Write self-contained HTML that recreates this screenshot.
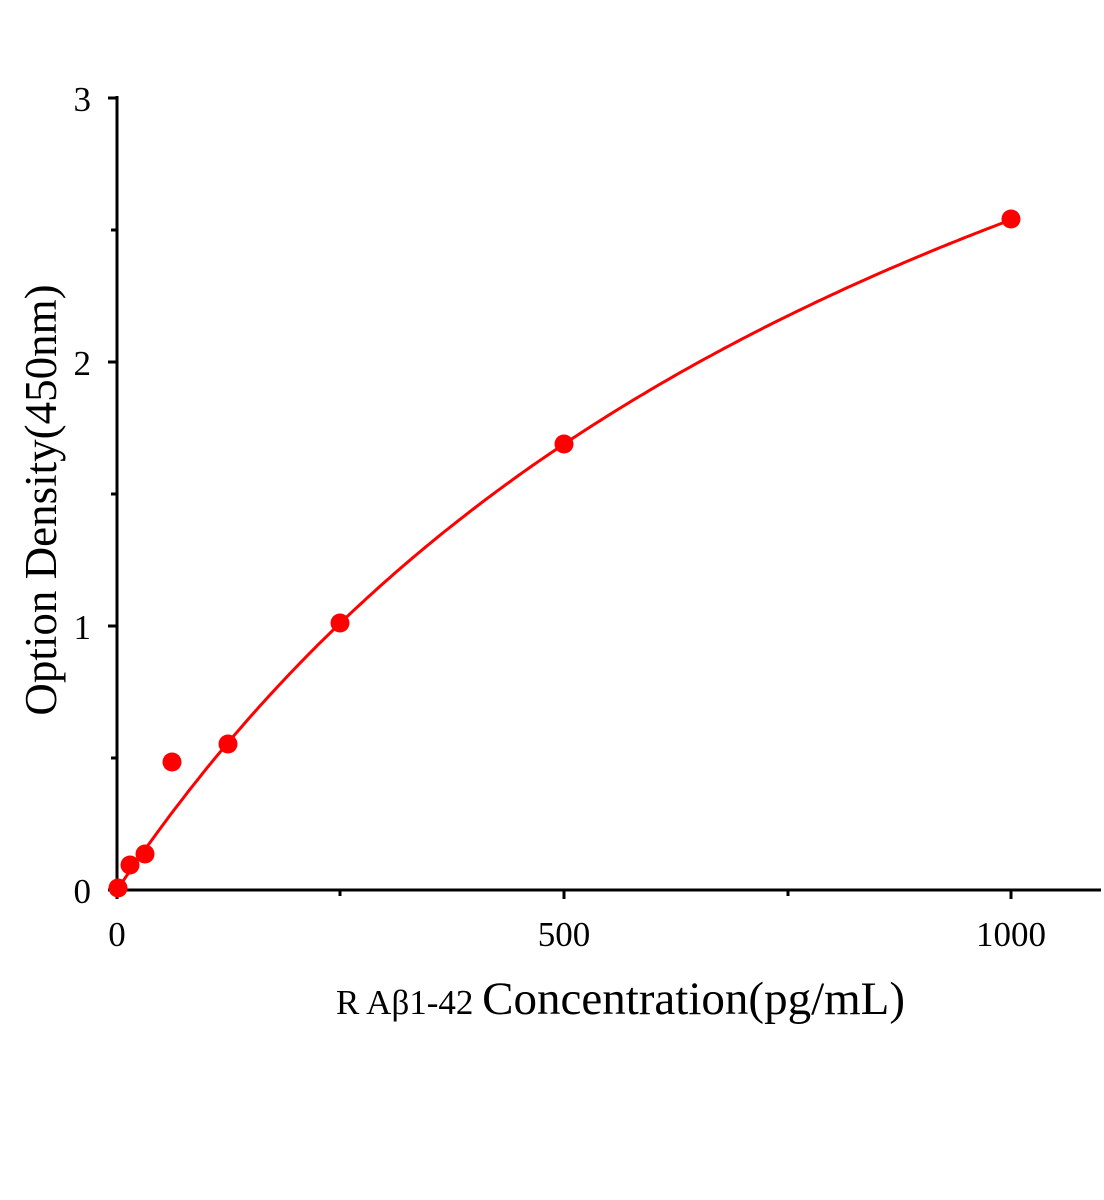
<!DOCTYPE html>
<html><head><style>body{margin:0;background:#fff}svg{display:block}text{font-family:"Liberation Serif",serif;fill:#000}</style></head>
<body>
<svg width="1104" height="1200" viewBox="0 0 1104 1200">
<g stroke="#000" stroke-width="3" fill="none">
<line x1="117" y1="96" x2="117" y2="891"/>
<line x1="115" y1="890" x2="1101" y2="890"/>
<line x1="108" y1="98" x2="117" y2="98"/>
<line x1="108" y1="362" x2="117" y2="362"/>
<line x1="108" y1="626" x2="117" y2="626"/>
<line x1="108" y1="890" x2="117" y2="890"/>
<line x1="111" y1="230" x2="117" y2="230"/>
<line x1="111" y1="494" x2="117" y2="494"/>
<line x1="111" y1="758" x2="117" y2="758"/>
<line x1="117" y1="890" x2="117" y2="899"/>
<line x1="564" y1="890" x2="564" y2="899"/>
<line x1="1011" y1="890" x2="1011" y2="899"/>
<line x1="340" y1="890" x2="340" y2="896"/>
<line x1="788" y1="890" x2="788" y2="896"/>
</g>
<g font-size="35" text-anchor="end">
<text x="91" y="111">3</text>
<text x="91" y="375">2</text>
<text x="91" y="639">1</text>
<text x="91" y="903">0</text>
</g>
<g font-size="35" text-anchor="middle">
<text x="117" y="946">0</text>
<text x="564" y="946">500</text>
<text x="1011" y="946">1000</text>
</g>
<text x="336" y="1014" font-size="35">R Aβ1-42 <tspan font-size="47">Concentration(pg/mL)</tspan></text>
<text transform="translate(56,500) rotate(-90)" font-size="45" text-anchor="middle">Option Density(450nm)</text>
<path id="c" fill="none" stroke="#f00" stroke-width="3"/>
<g fill="#f00">
<circle cx="118" cy="888" r="9.5"/>
<circle cx="130" cy="865" r="9.5"/>
<circle cx="145" cy="854" r="9.5"/>
<circle cx="172" cy="762" r="9.5"/>
<circle cx="228" cy="744" r="9.5"/>
<circle cx="340" cy="623" r="9.5"/>
<circle cx="564" cy="444" r="9.5"/>
<circle cx="1011" cy="219" r="9.5"/>
</g>
</svg>
<script>
var d="";
for(var x=0;x<=1000;x+=5){var k=1012;
var v=5.11*x/(k+x);
var px=117+x*0.894, py=890-v*263.9;
d+=(x?" L":"M")+px.toFixed(1)+","+py.toFixed(1);}
document.getElementById("c").setAttribute("d",d);
</script>
</body></html>
